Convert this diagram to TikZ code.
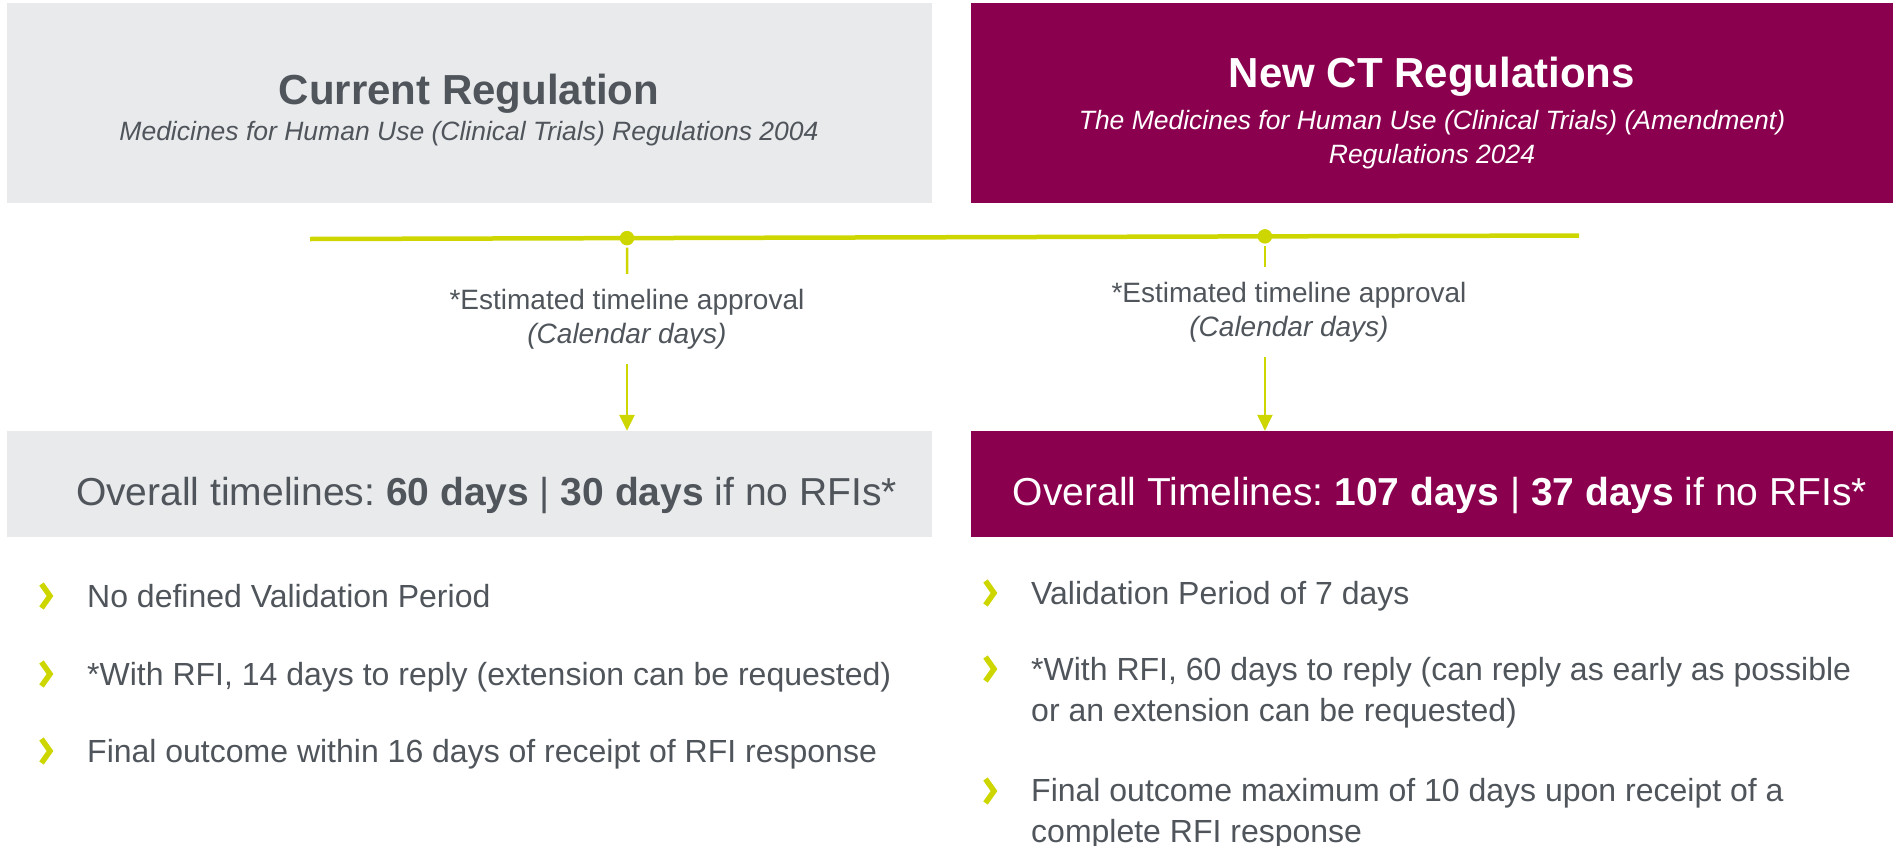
\documentclass[tikz,border=0pt]{standalone}
\usepackage{fontspec}
\setmainfont{Liberation Sans}
\frenchspacing
\usetikzlibrary{positioning,arrows.meta}

\definecolor{ctgrey}{HTML}{E9EAEC}
\definecolor{ctplum}{HTML}{8A004E}
\definecolor{cttext}{HTML}{4F555B}
\definecolor{ctlime}{HTML}{CED600}

\tikzset{
  panel/.style={inner sep=0pt, minimum width=925pt, minimum height=200pt},
  bar/.style={inner sep=0pt, minimum width=925pt, minimum height=106pt},
  heading/.style={font=\fontsize{42}{50}\selectfont\bfseries, anchor=base, inner sep=0pt},
  subheading/.style={font=\fontsize{26.5}{34}\selectfont\itshape, anchor=base, align=center, inner sep=0pt},
  est/.style={font=\fontsize{28}{34}\selectfont, text=cttext, align=center, inner sep=15pt},
  total/.style={font=\fontsize{39}{46}\selectfont, anchor=base, inner sep=0pt},
  item/.style={font=\fontsize{32}{41}\selectfont, text=cttext, anchor=base west, align=left, inner sep=0pt},
  dot/.style={circle, fill=ctlime, inner sep=0pt, minimum size=14.5pt},
  chevron/.pic={\draw[ctlime, line width=5.5pt] (-4.5,-12) -- (4,0) -- (-4.5,12);},
}

\begin{document}
\begin{tikzpicture}[x=1pt, y=-1pt]
  \useasboundingbox (0,0) rectangle (1893,846);

  % header panels
  \node[panel, fill=ctgrey] (curPanel) at (469.5,103) {};
  \node[panel, fill=ctplum, minimum width=922pt] (newPanel) at (1432,103) {};
  \node[heading, text=cttext] (curTitle) at (469,104) {Current Regulation};
  \node[subheading, text=cttext] (curSub) at (469,140)
    {Medicines for Human Use (Clinical Trials) Regulations 2004};
  \node[heading, text=white] (newTitle) at (1432,87) {New CT Regulations};
  % base of a two-line node sits on its last line
  \node[subheading, text=white] (newSub) at (1432,163)
    {The Medicines for Human Use (Clinical Trials) (Amendment)\\Regulations 2024};

  % timeline bar with its two stops
  \coordinate (tlStart) at (310,239);
  \coordinate (tlEnd) at (1579,235.5);
  \draw[ctlime, line width=4.5pt] (tlStart) -- node[pos=0.2498, dot] (dotA) {}
    node[pos=0.7525, dot] (dotB) {} (tlEnd);

  \node[est] (estA) at (627,319) {*Estimated timeline approval\\\textit{(Calendar days)}};
  \node[est] (estB) at (1289,312) {*Estimated timeline approval\\\textit{(Calendar days)}};

  % timeline result bars
  \node[bar, fill=ctgrey] (curBar) at (469.5,484) {};
  \node[bar, fill=ctplum, minimum width=922pt] (newBar) at (1432,484) {};
  \node[total, text=cttext] (curTotal) at (486.5,505)
    {Overall timelines: \textbf{60 days} | \textbf{30 days} if no RFIs*};
  \node[total, text=white] (newTotal) at (1440,505)
    {Overall Timelines: \textbf{107 days} | \textbf{37 days} if no RFIs*};

  \draw[ctlime, line width=2.5pt] (dotA) -- (estA.north);
  \draw[ctlime, line width=2.5pt, -{Triangle[width=15pt,length=16pt]}] (estA.south) -- (curBar.north -| estA);
  \draw[ctlime, line width=2.5pt] (dotB) -- (estB.north -| dotB);
  \draw[ctlime, line width=2.5pt, -{Triangle[width=15pt,length=16pt]}] (estB.south -| dotB) -- (newBar.north -| dotB);

  % bullet points, current regulation
  \node[item] (curA) at (87,607) {No defined Validation Period};
  \node[item] (curB) at (87,685) {*With RFI, 14 days to reply (extension can be requested)};
  \node[item] (curC) at (87,762) {Final outcome within 16 days of receipt of RFI response};
  \foreach \y in {596,674,751} \pic at (46,\y) {chevron};

  % bullet points, new regulations
  \node[item] (newA) at (1031,604) {Validation Period of 7 days};
  \node[item] (newB) at (1031,721)
    {*With RFI, 60 days to reply (can reply as early as possible\\or an extension can be requested)};
  \node[item] (newC) at (1031,842)
    {Final outcome maximum of 10 days upon receipt of a\\complete RFI response};
  \foreach \y in {593,669,791} \pic at (990,\y) {chevron};
\end{tikzpicture}
\end{document}
